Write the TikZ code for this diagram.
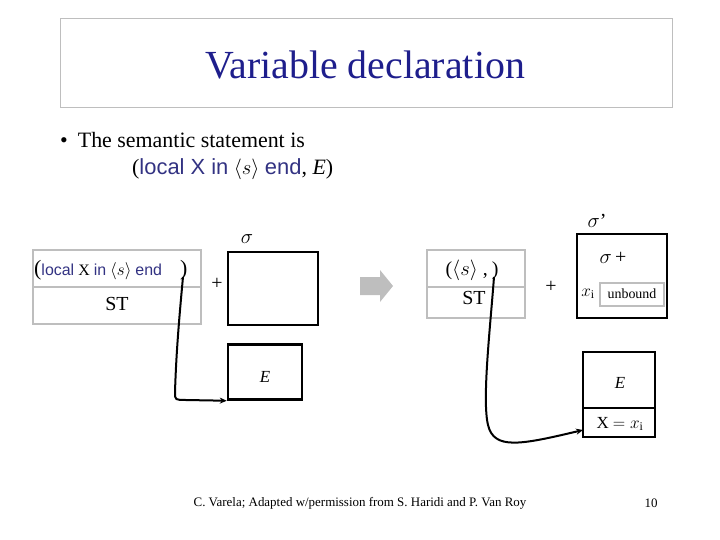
\documentclass[tikz,border=0pt]{standalone}
\usepackage{fontspec}
\setmainfont{Liberation Serif}
\setsansfont{Liberation Sans}
\usetikzlibrary{arrows.meta}
\definecolor{tblue}{RGB}{30,30,140}
\definecolor{kblue}{RGB}{50,50,130}
\definecolor{lgray}{RGB}{190,190,190}
\tikzset{
 gbox/.style={draw=lgray,line width=2.5bp},
 bbox/.style={draw=black,line width=2.5bp},
 conn/.style={line width=2bp,-{Stealth[length=7bp,width=6bp]}},
 lbl/.style={inner sep=0pt,font=\fontsize{20}{22}\selectfont}
}
\newcommand{\kw}[1]{{\sffamily\color{kblue}#1}}
\begin{document}
\begin{tikzpicture}[x=1bp,y=-1bp]
\useasboundingbox (0,0) rectangle (720,540);
\draw[draw=lgray,line width=0.8bp] (60,18) rectangle (672,107);
\node[inner sep=0pt,text=tblue,font=\fontsize{40}{44}\selectfont] (title) at (365,65) {Variable declaration};
\node[anchor=west,inner sep=0pt,font=\fontsize{22}{24}\selectfont] (b1) at (60,140) {\textbullet\hspace{10bp}The semantic statement is};
\node[anchor=west,inner sep=0pt,font=\fontsize{22}{24}\selectfont] (b2) at (132,169) {(\kw{local X in} $\langle s\rangle$ \kw{end}, \textit{E})};
% left stack
\draw[gbox] (33,250) rectangle (201,324);
\draw[gbox] (33,287) -- (201,287);
\node[anchor=west,inner sep=0pt,font=\fontsize{17}{20}\selectfont] (lt) at (34,270) {\fontsize{22}{24}\selectfont(\fontsize{16}{20}\selectfont\kw{local} X \kw{in} $\langle s\rangle$ \kw{end}\hspace{18bp}\fontsize{22}{24}\selectfont)};
\coordinate (ls) at (183,277);
\node[lbl] (lst) at (117,304) {ST};
\node[lbl] (plus1) at (217,284) {+};
\node[lbl] (sig) at (247,239) {$\sigma$};
\draw[bbox] (228,252) rectangle (318,325);
\node[bbox,minimum width=74bp,minimum height=55bp,inner sep=0pt] (e1) at (265,372) {};
\node[lbl,font=\fontsize{17}{20}\selectfont\itshape] at (265,377) {E};
\draw[conn] (ls) .. controls (178,330) and (176,360) .. (175,392) .. controls (175,400) .. (186,400) -- (e1.south west);
% big arrow
\fill[lgray] (360,277) -- (380,277) -- (380,270) -- (393,286) -- (380,302) -- (380,295) -- (360,295) -- cycle;
% middle stack
\draw[gbox] (427,250) rectangle (525,318);
\draw[gbox] (427,287) -- (525,287);
\node[lbl] (mt) at (472,270) {($\langle s\rangle$ ,\hspace{4bp})};
\coordinate (ms) at (494,277);
\node[lbl] (mst) at (474,298) {ST};
\node[lbl] (plus2) at (551,287) {+};
\node[lbl] (sigp) at (597,221) {$\sigma$'};
\draw[bbox] (577,234) rectangle (667,318);
\node[lbl] (sigplus) at (613,258) {$\sigma$\,+};
\node[lbl,font=\fontsize{17}{20}\selectfont] (xi) at (588,294) {$x_{\rm i}$};
\draw[gbox] (600,283) rectangle (664,306);
\node[lbl,font=\fontsize{14}{16}\selectfont] (unb) at (632,294) {unbound};
\draw[bbox] (583,352) rectangle (655,437);
\draw[bbox] (583,408) -- (655,408);
\node[lbl,font=\fontsize{17}{20}\selectfont\itshape] (e2) at (620,383) {E};
\node[lbl,font=\fontsize{17}{20}\selectfont] (xeq) at (620,424) {X $= x_{\rm i}$};
\coordinate (e2in) at (583,430);
\draw[conn] (ms) .. controls (490,330) and (482,400) .. (488,425) .. controls (494,450) and (520,445) .. (e2in);
% footer
\node[inner sep=0pt,font=\fontsize{13}{15}\selectfont] (foot) at (360,503) {C. Varela; Adapted w/permission from S. Haridi and P. Van Roy};
\node[inner sep=0pt,font=\fontsize{13}{15}\selectfont] (pg) at (651,503) {10};
\end{tikzpicture}
\end{document}
